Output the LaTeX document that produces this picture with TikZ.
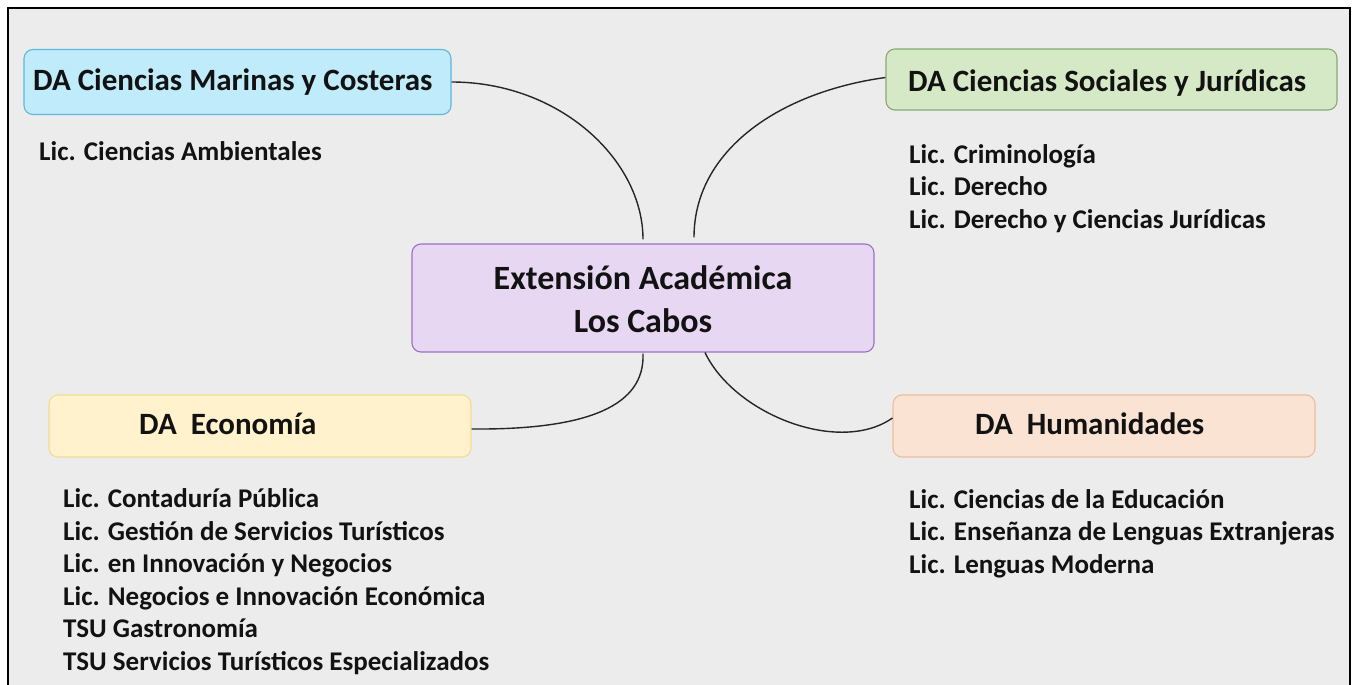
\documentclass[tikz,border=0pt]{standalone}
\usepackage{fontspec}
\setmainfont{Carlito}
\definecolor{bgc}{RGB}{236,236,236}
\definecolor{txt}{RGB}{18,18,18}
\definecolor{marf}{RGB}{191,235,250}\definecolor{mard}{RGB}{90,185,222}
\definecolor{socf}{RGB}{214,233,198}\definecolor{socd}{RGB}{135,170,115}
\definecolor{cenf}{RGB}{232,215,243}\definecolor{cend}{RGB}{156,112,195}
\definecolor{ecof}{RGB}{255,242,204}\definecolor{ecod}{RGB}{243,220,150}
\definecolor{humf}{RGB}{251,227,211}\definecolor{humd}{RGB}{236,190,160}
\begin{document}
\begin{tikzpicture}[x=1pt,y=-1pt,
  dabox/.style={draw, rounded corners=9pt, line width=1.1pt, inner sep=0pt},
  title/.style={font=\fontsize{31}{37}\selectfont\bfseries, text=txt, inner sep=0pt, anchor=base west},
  centitle/.style={font=\fontsize{34}{43}\selectfont\bfseries, text=txt, align=center, inner sep=0pt},
  item/.style={font=\fontsize{27}{32.5}\selectfont\bfseries, text=txt, align=left, inner sep=0pt, anchor=base west},
  link/.style={line width=1.4pt, draw=black!85}]
\useasboundingbox (0,0) rectangle (1353,685);
\fill[white] (0,0) rectangle (1353,685);
\fill[bgc] (8,8) rectangle (1350,685);
\draw[line width=2.5pt, black] (8,686) -- (8,8) -- (1350,8) -- (1350,686);
% boxes
\node[dabox, fill=marf, draw=mard, minimum width=427pt, minimum height=65pt] (mar) at (237.5,82) {};
\node[dabox, fill=socf, draw=socd, minimum width=451pt, minimum height=61pt] (soc) at (1111.5,79.5) {};
\node[dabox, fill=cenf, draw=cend, minimum width=462pt, minimum height=108pt] (cen) at (643,298) {};
\node[dabox, fill=ecof, draw=ecod, minimum width=422pt, minimum height=62pt] (eco) at (260,426) {};
\node[dabox, fill=humf, draw=humd, minimum width=422pt, minimum height=62pt] (hum) at (1104,426) {};
% titles
\node[title] (tmar) at (33,91) {DA Ciencias Marinas y Costeras};
\node[title] (tsoc) at (908,92) {DA Ciencias Sociales y Jurídicas};
\node[centitle] (tcen) at (643,299) {Extensión Académica\\Los Cabos};
\node[title] (teco) at (139,434) {DA\ \ Economía};
\node[title] (thum) at (975,434) {DA\ \ Humanidades};
% items (anchored at the baseline of the last line)
\node[item] (imar) at (39,160) {Lic. Ciencias Ambientales};
\node[item] (isoc) at (909,228) {Lic. Criminología\\Lic. Derecho\\Lic. Derecho y Ciencias Jurídicas};
\node[item] (ieco) at (63,670) {Lic. Contaduría Pública\\Lic. Gestión de Servicios Turísticos\\Lic. en Innovación y Negocios\\Lic. Negocios e Innovación Económica\\TSU Gastronomía\\TSU Servicios Turísticos Especializados};
\node[item] (ihum) at (909,573) {Lic. Ciencias de la Educación\\Lic. Enseñanza de Lenguas Extranjeras\\Lic. Lenguas Moderna};
% connectors
\draw[link] (mar.east) .. controls (560,82) and (643,160) .. ([yshift=4pt]cen.north);
\draw[link] ([xshift=51pt,yshift=6pt]cen.north) .. controls (694,150) and (780,92) .. ([yshift=2pt]soc.west);
\draw[link] ([yshift=-1pt]cen.south) .. controls (645,405) and (590,430) .. ([yshift=-3pt]eco.east);
\draw[link] ([xshift=62pt]cen.south) .. controls (735,415) and (840,455) .. ([yshift=8pt]hum.west);
\end{tikzpicture}
\end{document}
